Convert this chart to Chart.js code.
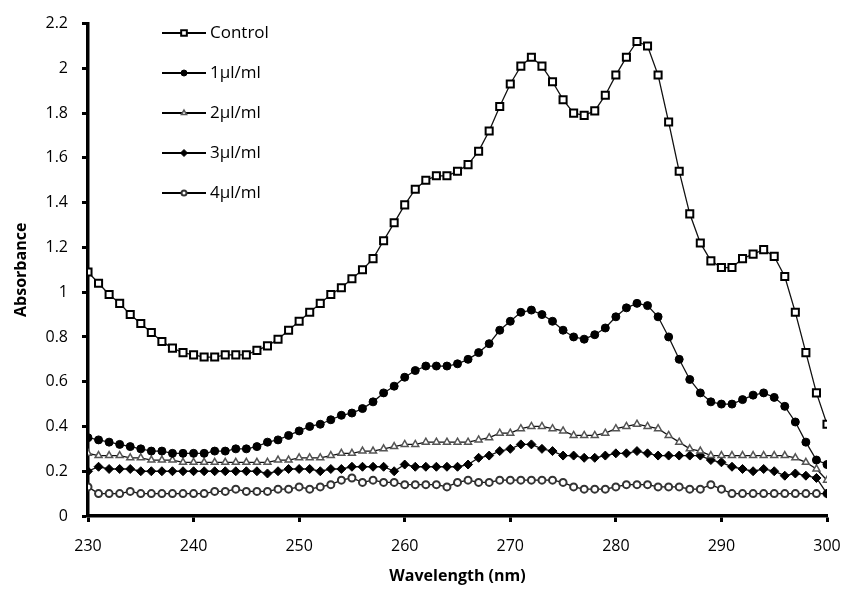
<!DOCTYPE html>
<html>
<head>
<meta charset="utf-8">
<script src="https://cdn.jsdelivr.net/npm/chart.js@4/dist/chart.umd.min.js"></script>
<style>
  html, body { margin: 0; padding: 0; background: #fff; }
  #wrap { width: 857px; height: 590px; }
</style>
</head>
<body>
<div id="wrap"><canvas id="absChart" width="857" height="590"></canvas></div>
<script>
// wavelength (nm), one reading per nm
const wavelengths = [230, 231, 232, 233, 234, 235, 236, 237, 238, 239,
    240, 241, 242, 243, 244, 245, 246, 247, 248, 249,
    250, 251, 252, 253, 254, 255, 256, 257, 258, 259,
    260, 261, 262, 263, 264, 265, 266, 267, 268, 269,
    270, 271, 272, 273, 274, 275, 276, 277, 278, 279,
    280, 281, 282, 283, 284, 285, 286, 287, 288, 289,
    290, 291, 292, 293, 294, 295, 296, 297, 298, 299, 300];

const seriesLabels = ["Control", "1\u00b5l/ml", "2\u00b5l/ml", "3\u00b5l/ml", "4\u00b5l/ml"];

const control = [1.09, 1.04, 0.99, 0.95, 0.90, 0.86, 0.82, 0.78, 0.75, 0.73,
    0.72, 0.71, 0.71, 0.72, 0.72, 0.72, 0.74, 0.76, 0.79, 0.83,
    0.87, 0.91, 0.95, 0.99, 1.02, 1.06, 1.10, 1.15, 1.23, 1.31,
    1.39, 1.46, 1.50, 1.52, 1.52, 1.54, 1.57, 1.63, 1.72, 1.83,
    1.93, 2.01, 2.05, 2.01, 1.94, 1.86, 1.80, 1.79, 1.81, 1.88,
    1.97, 2.05, 2.12, 2.10, 1.97, 1.76, 1.54, 1.35, 1.22, 1.14,
    1.11, 1.11, 1.15, 1.17, 1.19, 1.16, 1.07, 0.91, 0.73, 0.55, 0.41];

const dose1 = [0.35, 0.34, 0.33, 0.32, 0.31, 0.30, 0.29, 0.29, 0.28, 0.28,
    0.28, 0.28, 0.29, 0.29, 0.30, 0.30, 0.31, 0.33, 0.34, 0.36,
    0.38, 0.40, 0.41, 0.43, 0.45, 0.46, 0.48, 0.51, 0.55, 0.58,
    0.62, 0.65, 0.67, 0.67, 0.67, 0.68, 0.70, 0.73, 0.77, 0.83,
    0.87, 0.91, 0.92, 0.90, 0.87, 0.83, 0.80, 0.79, 0.81, 0.84,
    0.89, 0.93, 0.95, 0.94, 0.89, 0.80, 0.70, 0.61, 0.55, 0.51,
    0.50, 0.50, 0.52, 0.54, 0.55, 0.53, 0.49, 0.42, 0.33, 0.25, 0.23];

const dose2 = [0.28, 0.27, 0.27, 0.27, 0.26, 0.26, 0.25, 0.25, 0.25, 0.24,
    0.24, 0.24, 0.24, 0.24, 0.24, 0.24, 0.24, 0.24, 0.25, 0.25,
    0.26, 0.26, 0.26, 0.27, 0.28, 0.28, 0.29, 0.29, 0.30, 0.31,
    0.32, 0.32, 0.33, 0.33, 0.33, 0.33, 0.33, 0.34, 0.35, 0.37,
    0.37, 0.39, 0.40, 0.40, 0.39, 0.38, 0.36, 0.36, 0.36, 0.37,
    0.39, 0.40, 0.41, 0.40, 0.39, 0.36, 0.33, 0.30, 0.29, 0.27,
    0.27, 0.27, 0.27, 0.27, 0.27, 0.27, 0.27, 0.26, 0.24, 0.21, 0.16];

const dose3 = [0.20, 0.22, 0.21, 0.21, 0.21, 0.20, 0.20, 0.20, 0.20, 0.20,
    0.20, 0.20, 0.20, 0.20, 0.20, 0.20, 0.20, 0.19, 0.20, 0.21,
    0.21, 0.21, 0.20, 0.21, 0.21, 0.22, 0.22, 0.22, 0.22, 0.20,
    0.23, 0.22, 0.22, 0.22, 0.22, 0.22, 0.23, 0.26, 0.27, 0.29,
    0.30, 0.32, 0.32, 0.30, 0.29, 0.27, 0.27, 0.26, 0.26, 0.27,
    0.28, 0.28, 0.29, 0.28, 0.27, 0.27, 0.27, 0.27, 0.27, 0.25,
    0.24, 0.22, 0.21, 0.20, 0.21, 0.20, 0.18, 0.19, 0.18, 0.17, 0.10];

const dose4 = [0.13, 0.10, 0.10, 0.10, 0.11, 0.10, 0.10, 0.10, 0.10, 0.10,
    0.10, 0.10, 0.11, 0.11, 0.12, 0.11, 0.11, 0.11, 0.12, 0.12,
    0.13, 0.12, 0.13, 0.14, 0.16, 0.17, 0.15, 0.16, 0.15, 0.15,
    0.14, 0.14, 0.14, 0.14, 0.13, 0.15, 0.16, 0.15, 0.15, 0.16,
    0.16, 0.16, 0.16, 0.16, 0.16, 0.15, 0.13, 0.12, 0.12, 0.12,
    0.13, 0.14, 0.14, 0.14, 0.13, 0.13, 0.13, 0.12, 0.12, 0.14,
    0.12, 0.10, 0.10, 0.10, 0.10, 0.10, 0.10, 0.10, 0.10, 0.10, 0.10];

const FONT = "'Open Sans', 'DejaVu Sans', sans-serif";

function toPoints(values) {
    return wavelengths.map((w, i) => ({ x: w, y: values[i] }));
}

function makeSeries(label, values, style, radius, fill, border, bw) {
    return {
        label: label,
        data: toPoints(values),
        borderColor: "#111",
        borderWidth: 1.3,
        tension: 0,
        pointStyle: style,
        pointRadius: radius,
        pointBackgroundColor: fill,
        pointBorderColor: border,
        pointBorderWidth: bw
    };
}

// Excel style legend: short line with marker, stacked inside the plot
const sideLegend = {
    id: "sideLegend",
    afterDraw(chart) {
        const ctx = chart.ctx;
        chart.data.datasets.forEach((ds, i) => {
            const y = 33 + i * 40;
            ctx.save();
            ctx.strokeStyle = "#000";
            ctx.lineWidth = 2;
            ctx.beginPath();
            ctx.moveTo(162, y);
            ctx.lineTo(206, y);
            ctx.stroke();
            ctx.fillStyle = ds.pointBackgroundColor;
            ctx.strokeStyle = ds.pointBorderColor;
            ctx.lineWidth = ds.pointBorderWidth;
            Chart.helpers.drawPoint(ctx, {
                pointStyle: ds.pointStyle,
                radius: Math.max(ds.pointRadius - 1, 2.5),
                borderWidth: ds.pointBorderWidth,
                rotation: 0
            }, 184, y);
            ctx.fillStyle = "#000";
            ctx.font = "17px " + FONT;
            ctx.textBaseline = "middle";
            ctx.textAlign = "left";
            ctx.fillText(ds.label, 210, y);
            ctx.restore();
        });
    }
};

new Chart(document.getElementById("absChart").getContext("2d"), {
    type: "line",
    data: {
        datasets: [
            makeSeries(seriesLabels[0], control, "rect", 5, "#fff", "#000", 2),
            makeSeries(seriesLabels[1], dose1, "circle", 4, "#000", "#000", 1),
            makeSeries(seriesLabels[2], dose2, "triangle", 4, "#fff", "#555", 1.5),
            makeSeries(seriesLabels[3], dose3, "rectRot", 4.5, "#000", "#000", 1),
            makeSeries(seriesLabels[4], dose4, "circle", 3.5, "#fff", "#333", 2)
        ]
    },
    options: {
        responsive: false,
        animation: false,
        layout: { padding: { top: 17, right: 30, left: 0, bottom: 0 } },
        plugins: {
            legend: { display: false },
            tooltip: { enabled: false }
        },
        scales: {
            x: {
                type: "linear",
                min: 230,
                max: 300,
                afterFit(scale) { scale.height = 74; },
                ticks: { stepSize: 10, padding: 15, color: "#000", font: { family: FONT, size: 16 } },
                grid: { drawOnChartArea: false, drawTicks: true, tickLength: 6, tickWidth: 3, tickColor: "#000" },
                border: { display: true, color: "#000", width: 3.5 },
                title: { display: true, text: "Wavelength (nm)", color: "#000", padding: { top: 0 },
                         font: { family: FONT, size: 16, weight: "bold" } }
            },
            y: {
                min: 0,
                max: 2.2,
                afterFit(scale) { scale.width = 88; },
                ticks: { stepSize: 0.2, padding: 14, color: "#000", font: { family: FONT, size: 16 },
                         callback: v => Math.round(v * 10) / 10 },
                grid: { drawOnChartArea: false, drawTicks: true, tickLength: 6, tickWidth: 3, tickColor: "#000" },
                border: { display: true, color: "#000", width: 3.5 },
                title: { display: true, text: "Absorbance", color: "#000", padding: { top: 12, bottom: 0 },
                         font: { family: FONT, size: 16, weight: "bold" } }
            }
        }
    },
    plugins: [sideLegend]
});
</script>
</body>
</html>
